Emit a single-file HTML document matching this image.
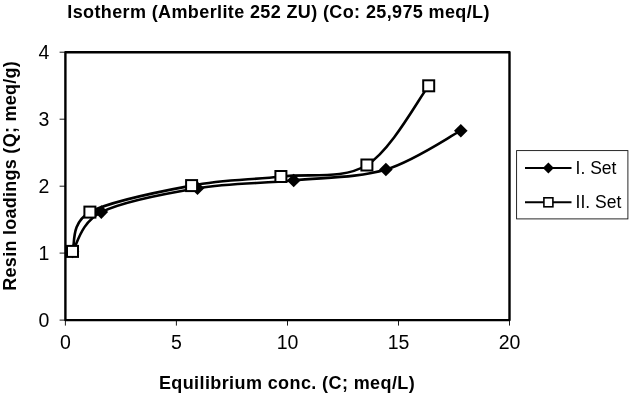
<!DOCTYPE html>
<html><head><meta charset="utf-8"><title>Isotherm</title>
<style>
html,body{margin:0;padding:0;background:#fff;}
body{width:629px;height:396px;overflow:hidden;}
svg{display:block;}
text{font-family:"Liberation Sans",Arial,sans-serif;fill:#000;}
text.b{font-weight:bold;}
</style></head><body>
<svg width="629" height="396" viewBox="0 0 629 396">
<rect x="65.4" y="52.2" width="444.1" height="267.9" fill="none" stroke="#000" stroke-width="2.4" stroke-linejoin="round"/>
<line x1="65.4" y1="320.1" x2="65.4" y2="325.6" stroke="#000" stroke-width="0.9"/>
<line x1="176.4" y1="320.1" x2="176.4" y2="325.6" stroke="#000" stroke-width="0.9"/>
<line x1="287.5" y1="320.1" x2="287.5" y2="325.6" stroke="#000" stroke-width="0.9"/>
<line x1="398.5" y1="320.1" x2="398.5" y2="325.6" stroke="#000" stroke-width="0.9"/>
<line x1="509.5" y1="320.1" x2="509.5" y2="325.6" stroke="#000" stroke-width="0.9"/>
<line x1="59.6" y1="320.1" x2="65.4" y2="320.1" stroke="#000" stroke-width="0.9"/>
<line x1="59.6" y1="253.1" x2="65.4" y2="253.1" stroke="#000" stroke-width="0.9"/>
<line x1="59.6" y1="186.2" x2="65.4" y2="186.2" stroke="#000" stroke-width="0.9"/>
<line x1="59.6" y1="119.2" x2="65.4" y2="119.2" stroke="#000" stroke-width="0.9"/>
<line x1="59.6" y1="52.2" x2="65.4" y2="52.2" stroke="#000" stroke-width="0.9"/>
<path d="M72.5,251.4 C77.3,244.8 80.5,222.6 101.3,212.1 C122.1,201.6 165.4,193.5 197.5,188.2 C229.6,182.9 262.3,183.6 293.7,180.5 C325.1,177.4 358.0,177.8 385.9,169.5 C413.8,161.2 448.3,137.2 460.8,130.7" fill="none" stroke="#000" stroke-width="2.6" stroke-linecap="round"/>
<path d="M72.5,251.4 C75.4,244.8 70.1,223.1 89.9,212.1 C109.8,201.1 159.8,191.5 191.6,185.6 C223.4,179.7 251.7,179.9 280.9,176.5 C310.1,173.1 342.3,180.1 366.9,165.0 C391.5,149.9 418.4,99.0 428.7,85.8" fill="none" stroke="#000" stroke-width="2.6" stroke-linecap="round"/>
<path d="M72.5,244.6 l6.8,6.8 l-6.8,6.8 l-6.8,-6.8 z" fill="#000"/>
<path d="M101.3,205.3 l6.8,6.8 l-6.8,6.8 l-6.8,-6.8 z" fill="#000"/>
<path d="M197.5,181.4 l6.8,6.8 l-6.8,6.8 l-6.8,-6.8 z" fill="#000"/>
<path d="M293.7,173.7 l6.8,6.8 l-6.8,6.8 l-6.8,-6.8 z" fill="#000"/>
<path d="M385.9,162.7 l6.8,6.8 l-6.8,6.8 l-6.8,-6.8 z" fill="#000"/>
<path d="M460.8,123.9 l6.8,6.8 l-6.8,6.8 l-6.8,-6.8 z" fill="#000"/>
<rect x="67.0" y="245.9" width="11" height="11" fill="#fff" stroke="#000" stroke-width="2"/>
<rect x="84.4" y="206.6" width="11" height="11" fill="#fff" stroke="#000" stroke-width="2"/>
<rect x="186.1" y="180.1" width="11" height="11" fill="#fff" stroke="#000" stroke-width="2"/>
<rect x="275.4" y="171.0" width="11" height="11" fill="#fff" stroke="#000" stroke-width="2"/>
<rect x="361.4" y="159.5" width="11" height="11" fill="#fff" stroke="#000" stroke-width="2"/>
<rect x="423.2" y="80.3" width="11" height="11" fill="#fff" stroke="#000" stroke-width="2"/>
<rect x="516.6" y="150.6" width="111.3" height="68.3" fill="#fff" stroke="#111" stroke-width="0.9"/>
<line x1="525" y1="168" x2="571.5" y2="168" stroke="#000" stroke-width="2"/>
<line x1="525" y1="202.3" x2="571.5" y2="202.3" stroke="#000" stroke-width="2"/>
<path d="M548.4,162.5 l5.5,5.5 l-5.5,5.5 l-5.5,-5.5 z" fill="#000"/>
<rect x="543.9" y="197.8" width="9" height="9" fill="#fff" stroke="#000" stroke-width="1.6"/>
<text id="title" class="b" x="67.3" y="17.6" font-size="18" letter-spacing="0.38">Isotherm (Amberlite 252 ZU) (Co: 25,975 meq/L)</text>
<text id="xt" class="b" x="158.9" y="389.0" font-size="18" letter-spacing="0.40">Equilibrium conc. (C; meq/L)</text>
<text id="yt" class="b" transform="translate(16.4,290.7) rotate(-90)" font-size="18" letter-spacing="0.27">Resin loadings (Q; meq/g)</text>
<text class="yl" x="49.3" y="326.7" font-size="19.5" text-anchor="end">0</text>
<text class="yl" x="49.3" y="259.7" font-size="19.5" text-anchor="end">1</text>
<text class="yl" x="49.3" y="192.8" font-size="19.5" text-anchor="end">2</text>
<text class="yl" x="49.3" y="125.8" font-size="19.5" text-anchor="end">3</text>
<text class="yl" x="49.3" y="58.8" font-size="19.5" text-anchor="end">4</text>
<text class="xl" x="65.4" y="348.9" font-size="19.5" text-anchor="middle">0</text>
<text class="xl" x="176.4" y="348.9" font-size="19.5" text-anchor="middle">5</text>
<text class="xl" x="287.5" y="348.9" font-size="19.5" text-anchor="middle">10</text>
<text class="xl" x="398.5" y="348.9" font-size="19.5" text-anchor="middle">15</text>
<text class="xl" x="509.5" y="348.9" font-size="19.5" text-anchor="middle">20</text>
<text id="l1" x="575.6" y="173.5" font-size="17.5">I. Set</text>
<text id="l2" x="575.6" y="207.5" font-size="17.5">II. Set</text>
</svg>
</body></html>
